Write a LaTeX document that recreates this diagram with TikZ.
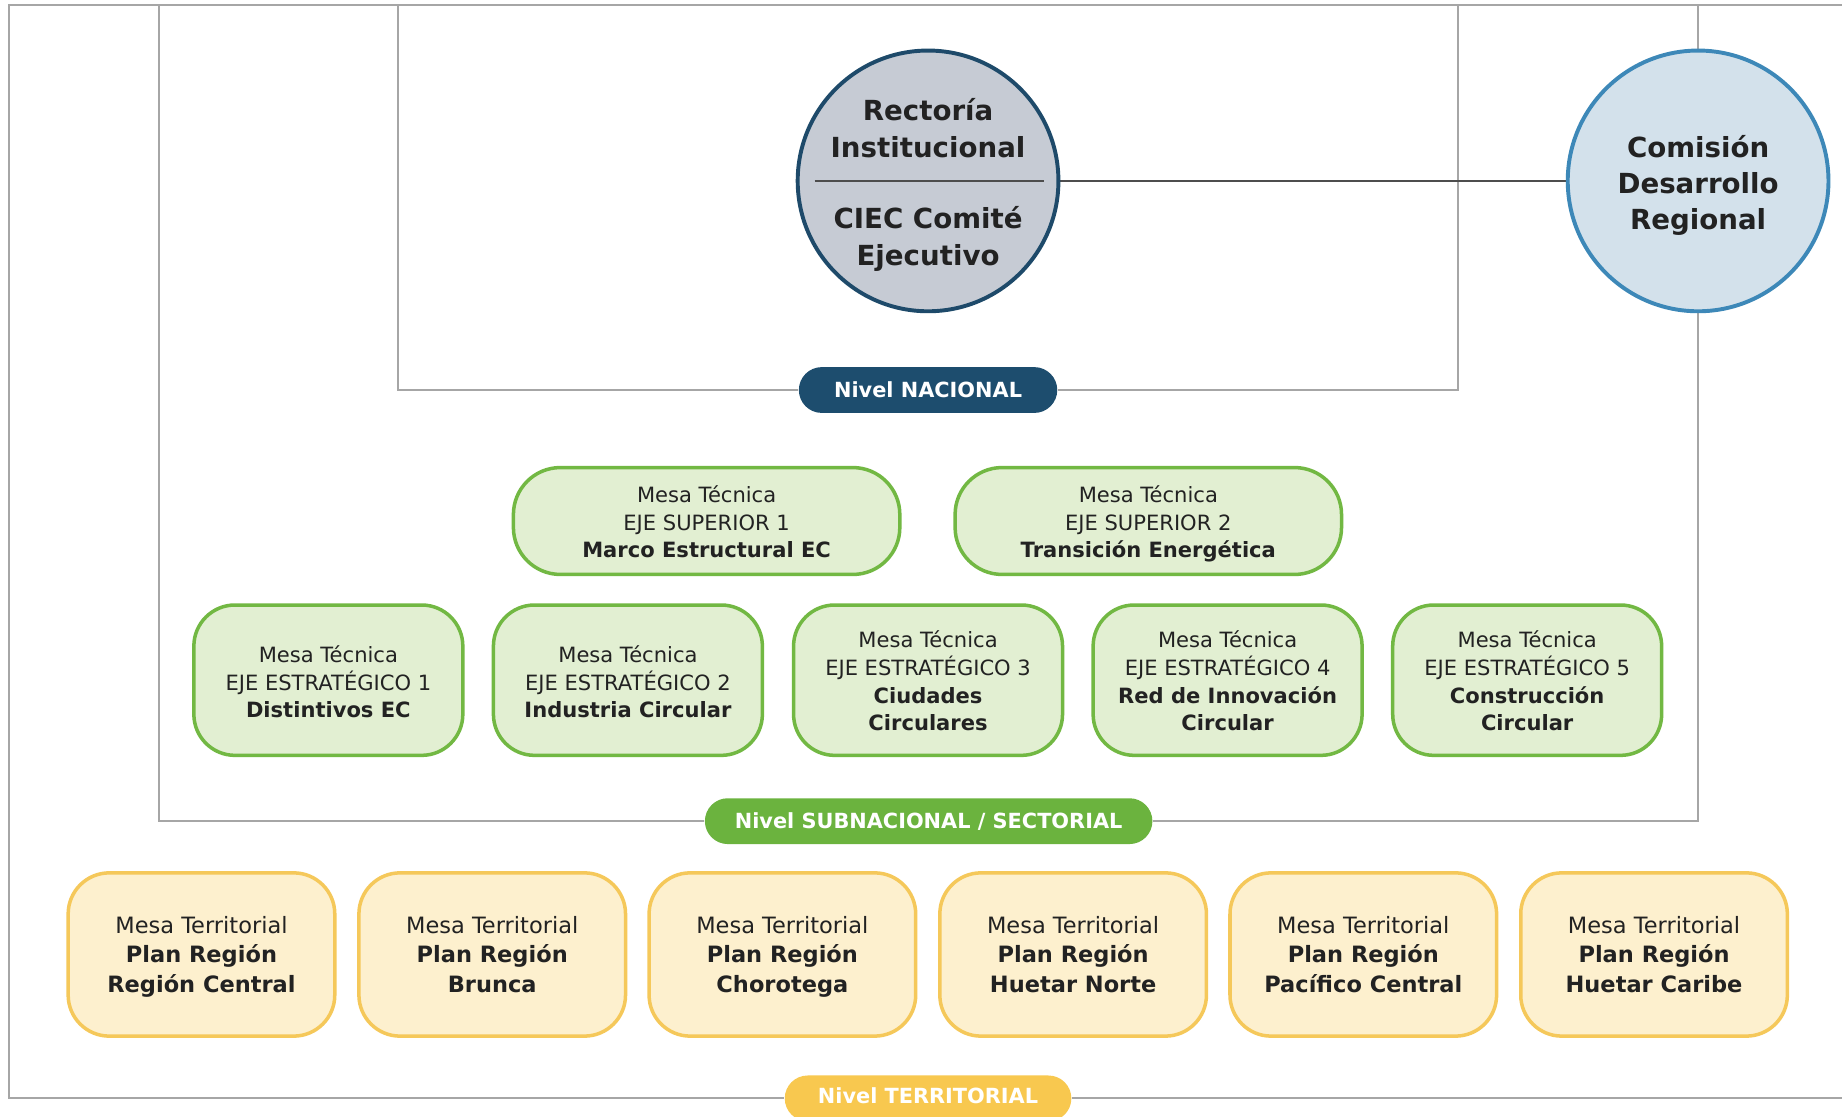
\documentclass[tikz,border=0pt]{standalone}
\usepackage{fontspec}
\setmainfont{DejaVu Sans}
\usetikzlibrary{positioning}
\definecolor{rectfill}{HTML}{C6CBD4}
\definecolor{rectdraw}{HTML}{1E4A6A}
\definecolor{comfill}{HTML}{D3E1EB}
\definecolor{comdraw}{HTML}{3D88B8}
\definecolor{gfill}{HTML}{E2EFD2}
\definecolor{gdraw}{HTML}{72B843}
\definecolor{yfill}{HTML}{FDF0CE}
\definecolor{ydraw}{HTML}{F5C85A}
\definecolor{pillnac}{HTML}{1D4D6E}
\definecolor{pillsub}{HTML}{6BB33E}
\definecolor{pillter}{HTML}{F8C84F}
\definecolor{framegray}{HTML}{A6A6A6}
\definecolor{conncol}{HTML}{4D4D4D}
\definecolor{textc}{HTML}{222222}
\newcommand{\mlines}[2][0pt]{\raisebox{-#1}[\height][\depth]{\begin{tabular}{@{}c@{}}#2\end{tabular}}}
\pgfdeclarelayer{bg}
\pgfsetlayers{bg,main}
\begin{document}
\begin{tikzpicture}[x=0.02cm,y=-0.02cm,
  frame/.style={draw=framegray,line width=1pt},
  conn/.style={draw=conncol,line width=1pt},
  circtext/.style={text=textc,inner sep=0pt,font=\fontsize{13.4}{17.6}\selectfont\bfseries},
  circA/.style={circle,draw=rectdraw,fill=rectfill,line width=1.9pt,minimum size=4.44cm,inner sep=0pt},
  circB/.style={circle,draw=comdraw,fill=comfill,line width=1.9pt,minimum size=4.44cm,inner sep=0pt},
  gbox/.style={draw=gdraw,fill=gfill,line width=1.7pt,text=textc,inner sep=0pt,font=\fontsize{10.2}{13.4}\selectfont},
  supbox/.style={gbox,minimum width=6.58cm,minimum height=1.82cm,rounded corners=0.8cm},
  estbox/.style={gbox,minimum width=4.58cm,minimum height=2.56cm,rounded corners=0.7cm},
  ybox/.style={draw=ydraw,fill=yfill,line width=1.7pt,text=textc,inner sep=0pt,font=\fontsize{10.9}{14.2}\selectfont,minimum width=4.54cm,minimum height=2.78cm,rounded corners=0.7cm},
  pill/.style={text=white,font=\fontsize{10.1}{12}\selectfont\bfseries,minimum height=0.78cm,rounded corners=0.39cm,inner sep=0pt}
]
\useasboundingbox (0,0) rectangle (1568,950);

% circles
\node[circA] (rect) at (790,154) {};
\node[circtext] (rectT) at (790,112) {\mlines{Rectoría\\Institucional}};
\node[circtext] (rectB) at (790,204) {\mlines{CIEC Comité\\Ejecutivo}};
\draw[draw=conncol,line width=0.8pt] ([xshift=0.32cm]rect.west) -- ([xshift=-0.28cm]rect.east);
\node[circB] (com) at (1445.5,154) {};
\node[circtext] (comT) at (1445.5,158.5) {\mlines{Comisión\\Desarrollo\\Regional}};

% level pills
\node[pill,fill=pillnac,minimum width=4.4cm] (nac) at (790,332) {Nivel NACIONAL};
\node[pill,fill=pillsub,minimum width=7.62cm] (sub) at (790.5,699) {Nivel SUBNACIONAL / SECTORIAL};
\node[pill,fill=pillter,minimum width=4.88cm] (ter) at (790,935) {\raisebox{0.08cm}{Nivel TERRITORIAL}};

% superior axes
\node[supbox] (es1) at (601.5,443.5) {\mlines[1.7pt]{Mesa Técnica\\EJE SUPERIOR 1\\\textbf{Marco Estructural EC}}};
\node[supbox] (es2) at (977.5,443.5) {\mlines[1.7pt]{Mesa Técnica\\EJE SUPERIOR 2\\\textbf{Transición Energética}}};

% strategic axes
\node[estbox] (ee1) at (279.5,579) {\mlines[2.2pt]{Mesa Técnica\\EJE ESTRATÉGICO 1\\\textbf{Distintivos EC}}};
\node[estbox] (ee2) at (534.5,579) {\mlines[2.2pt]{Mesa Técnica\\EJE ESTRATÉGICO 2\\\textbf{Industria Circular}}};
\node[estbox] (ee3) at (790,579) {\mlines[1.7pt]{Mesa Técnica\\EJE ESTRATÉGICO 3\\\textbf{Ciudades}\\\textbf{Circulares}}};
\node[estbox] (ee4) at (1045,579) {\mlines[1.7pt]{Mesa Técnica\\EJE ESTRATÉGICO 4\\\textbf{Red de Innovación}\\\textbf{Circular}}};
\node[estbox] (ee5) at (1300,579) {\mlines[1.7pt]{Mesa Técnica\\EJE ESTRATÉGICO 5\\\textbf{Construcción}\\\textbf{Circular}}};

% territorial
\node[ybox] (t1) at (171.5,812.5) {\mlines[1.2pt]{Mesa Territorial\\\textbf{Plan Región}\\\textbf{Región Central}}};
\node[ybox] (t2) at (419,812.5) {\mlines[1.2pt]{Mesa Territorial\\\textbf{Plan Región}\\\textbf{Brunca}}};
\node[ybox] (t3) at (666,812.5) {\mlines[1.2pt]{Mesa Territorial\\\textbf{Plan Región}\\\textbf{Chorotega}}};
\node[ybox] (t4) at (913.5,812.5) {\mlines[1.2pt]{Mesa Territorial\\\textbf{Plan Región}\\\textbf{Huetar Norte}}};
\node[ybox] (t5) at (1160.5,812.5) {\mlines[1.2pt]{Mesa Territorial\\\textbf{Plan Región}\\\textbf{Pacífico Central}}};
\node[ybox] (t6) at (1408,812.5) {\mlines[1.2pt]{Mesa Territorial\\\textbf{Plan Región}\\\textbf{Huetar Caribe}}};

\begin{pgfonlayer}{bg}
  \fill[white] (0,0) rectangle (1568,950);
  % outer (territorial) frame
  \draw[frame] (1580,4) -- (8,4) -- (8,935) -- (ter.west);
  \draw[frame] (ter.east) -- (1580,935);
  % subnational frame
  \draw[frame] (135,4) -- (135,699) -- (sub.west);
  \draw[frame] (sub.east) -- (1445.5,699) -- (com.south);
  \draw[frame] (com.north) -- (1445.5,4);
  % national frame
  \draw[frame] (339,4) -- (339,332) -- (nac.west);
  \draw[frame] (nac.east) -- (1241,332) -- (1241,4);
  % link between circles
  \draw[conn] (rect.east) -- (com.west);
\end{pgfonlayer}
\end{tikzpicture}
\end{document}
